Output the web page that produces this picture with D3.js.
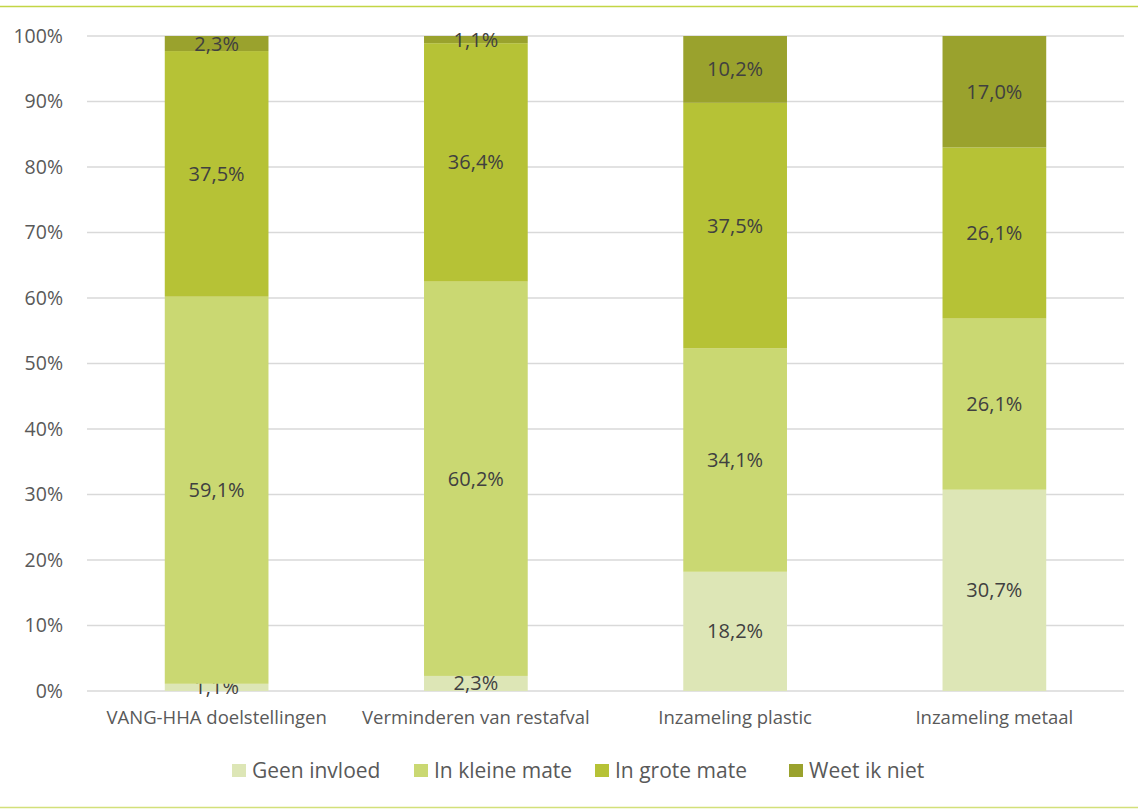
<!DOCTYPE html>
<html>
<head>
<meta charset="utf-8">
<script src="https://cdn.jsdelivr.net/npm/d3@7"></script>
<style>
  body { margin: 0; background: #fff; }
  svg { display: block; font-family: "Open Sans", sans-serif; }
</style>
</head>
<body>
<div id="chart"></div>
<script>
const categories = ["VANG-HHA doelstellingen", "Verminderen van restafval", "Inzameling plastic", "Inzameling metaal"]
const seriesNames = ["Geen invloed", "In kleine mate", "In grote mate", "Weet ik niet"]
const geenInvloed = [1.1, 2.3, 18.2, 30.7]
const kleineMate = [59.1, 60.2, 34.1, 26.1]
const groteMate = [37.5, 36.4, 37.5, 26.1]
const weetNiet = [2.3, 1.1, 10.2, 17.0]
const yTicks = [0, 10, 20, 30, 40, 50, 60, 70, 80, 90, 100]

const colors = ["#dde6b6", "#cad872", "#b6c236", "#9aa22d"]

const W = 1138, H = 809
const MARGIN = {LEFT: 87, RIGHT: 14, TOP: 36, BOTTOM: 118}

const svg = d3.select("#chart").append("svg")
    .attr("width", W)
    .attr("height", H)

// frame lines top and bottom
svg.append("line").attr("x1", 0).attr("x2", W).attr("y1", 6.5).attr("y2", 6.5)
    .attr("stroke", "#c3d545").attr("stroke-width", 1.5)
svg.append("line").attr("x1", 0).attr("x2", W).attr("y1", 807.5).attr("y2", 807.5)
    .attr("stroke", "#d3e07a").attr("stroke-width", 1.5)

const rows = categories.map((c, i) => ({
    cat: c,
    [seriesNames[0]]: geenInvloed[i],
    [seriesNames[1]]: kleineMate[i],
    [seriesNames[2]]: groteMate[i],
    [seriesNames[3]]: weetNiet[i]
}))

const stacked = d3.stack().keys(seriesNames).offset(d3.stackOffsetExpand)(rows)

const x = d3.scaleBand()
    .domain(categories)
    .range([MARGIN.LEFT, W - MARGIN.RIGHT])
    .paddingInner(0.6).paddingOuter(0.3)

const y = d3.scaleLinear()
    .domain([0, 1])
    .range([H - MARGIN.BOTTOM, MARGIN.TOP])

// gridlines
svg.append("g").selectAll("line")
    .data(yTicks).enter().append("line")
    .attr("x1", MARGIN.LEFT).attr("x2", W - MARGIN.RIGHT)
    .attr("y1", d => y(d / 100)).attr("y2", d => y(d / 100))
    .attr("stroke", "#d9d9d9").attr("stroke-width", 1.3)

// y tick labels
svg.append("g").selectAll("text")
    .data(yTicks).enter().append("text")
    .attr("x", 63).attr("y", d => y(d / 100))
    .attr("dy", "0.35em")
    .attr("text-anchor", "end")
    .attr("font-size", 19.5)
    .attr("fill", "#595959")
    .text(d => d + "%")

// bars
const layers = svg.append("g").selectAll("g")
    .data(stacked).enter().append("g")
    .attr("fill", (d, i) => colors[i])

layers.selectAll("rect")
    .data(d => d).enter().append("rect")
    .attr("x", d => x(d.data.cat))
    .attr("width", x.bandwidth())
    .attr("y", d => y(d[1]))
    .attr("height", d => y(d[0]) - y(d[1]))

// data labels
layers.selectAll("text")
    .data((d, i) => d.map(s => ({s: s, key: d.key}))).enter().append("text")
    .attr("x", d => x(d.s.data.cat) + x.bandwidth() / 2)
    .attr("y", d => y((d.s[0] + d.s[1]) / 2))
    .attr("dy", "0.35em")
    .attr("text-anchor", "middle")
    .attr("font-size", 20)
    .attr("fill", "#404040")
    .text(d => d3.format(".1f")(d.s.data[d.key]).replace(".", ",") + "%")

// x labels
svg.append("g").selectAll("text")
    .data(categories).enter().append("text")
    .attr("x", d => x(d) + x.bandwidth() / 2)
    .attr("y", 718)
    .attr("dy", "0.35em")
    .attr("text-anchor", "middle")
    .attr("font-size", 18.5)
    .attr("fill", "#595959")
    .text(d => d)

// legend
const legend = svg.append("g")
const legX = [232, 414, 595, 789]
seriesNames.forEach((n, i) => {
    const g = legend.append("g").attr("transform", `translate(${legX[i]},771)`)
    g.append("rect").attr("x", 0).attr("y", -7).attr("width", 14).attr("height", 13).attr("fill", colors[i])
    g.append("text").attr("x", 20).attr("y", 0).attr("dy", "0.35em")
        .attr("font-size", 21).attr("fill", "#595959").text(n)
})
</script>
</body>
</html>
